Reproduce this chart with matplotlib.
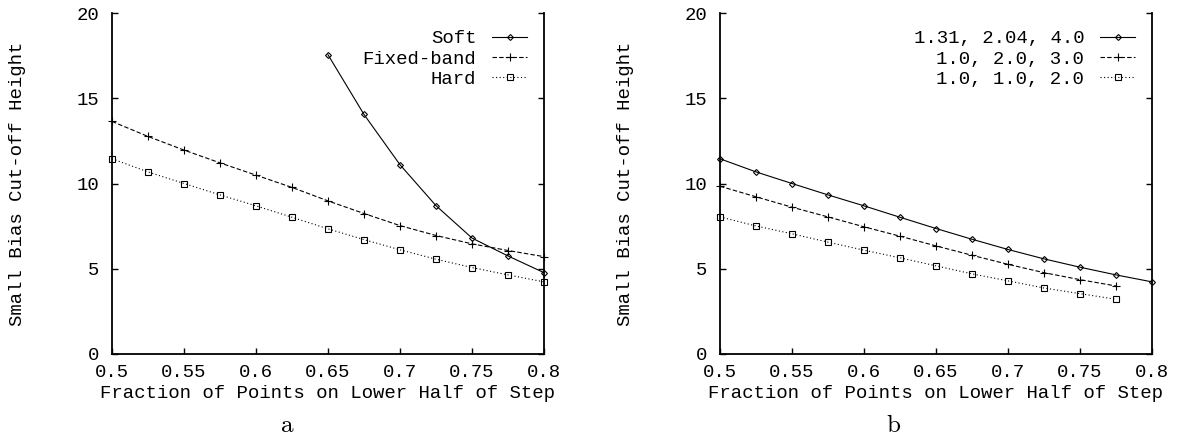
import matplotlib
matplotlib.use("Agg")
import matplotlib.pyplot as plt

# values
fraction = [0.5, 0.525, 0.55, 0.575, 0.6, 0.625, 0.65, 0.675, 0.7, 0.725, 0.75, 0.775, 0.8]

soft_x = [0.65, 0.675, 0.7, 0.725, 0.75, 0.775, 0.8]
soft = [17.55, 14.05, 11.1, 8.7, 6.8, 5.75, 4.77]
fixed_band = [13.64, 12.76, 11.96, 11.21, 10.49, 9.77, 8.98, 8.24, 7.53, 6.95, 6.46, 6.07, 5.71]
hard = [11.45, 10.68, 10.0, 9.33, 8.69, 8.02, 7.34, 6.71, 6.11, 5.56, 5.07, 4.64, 4.23]

b_labels = ["1.31, 2.04, 4.0", "1.0, 2.0, 3.0", "1.0, 1.0, 2.0"]
b_first = [11.45, 10.68, 10.0, 9.33, 8.69, 8.02, 7.36, 6.73, 6.13, 5.58, 5.09, 4.64, 4.23]
b_second = [9.84, 9.22, 8.61, 8.04, 7.46, 6.91, 6.34, 5.79, 5.26, 4.77, 4.36, 3.99]
b_third = [8.04, 7.51, 7.05, 6.56, 6.09, 5.64, 5.17, 4.70, 4.29, 3.87, 3.54, 3.21]

x_ticks = [0.5, 0.55, 0.6, 0.65, 0.7, 0.75, 0.8]
x_ticklabels = ["0.5", "0.55", "0.6", "0.65", "0.7", "0.75", "0.8"]
y_ticks = [0, 5, 10, 15, 20]

MONO = "Liberation Mono"
FS = 13.7

plt.rcParams["mathtext.fontset"] = "cm"

# gnuplot-ish line styles: solid/diamond, dashed/plus, dotted/square
STYLES = [
	dict(ls="-", marker="D", ms=3.0),
	dict(ls=(0, (4, 2)), marker="+", ms=5.5),
	dict(ls=(0, (1, 2.2)), marker="s", ms=4.2),
]


def style_axes(ax):
	ax.set_xlim(0.5, 0.8)
	ax.set_ylim(0, 20)
	ax.spines["top"].set_visible(False)
	for s in ("left", "bottom", "right"):
		ax.spines[s].set_linewidth(1.3)
	ax.set_xticks(x_ticks)
	ax.set_xticklabels(x_ticklabels)
	ax.set_yticks(y_ticks)
	ax.tick_params(axis="both", direction="in", length=4, width=1, labelsize=FS)
	ax.tick_params(axis="y", right=True, pad=9.4)
	ax.tick_params(axis="x", pad=7)
	for lab in ax.get_xticklabels() + ax.get_yticklabels():
		lab.set_family(MONO)
	ax.set_xlabel("Fraction of Points on Lower Half of Step", family=MONO, fontsize=FS)
	ax.set_ylabel("Small Bias Cut-off Height", family=MONO, fontsize=FS)
	ax.xaxis.label.set_va("center")
	ax.xaxis.set_label_coords(0.5, -40 / 341)
	ax.yaxis.label.set_va("center")
	ax.yaxis.set_label_coords(-94.5 / 432, 0.5)


def add_series(ax, x, y, label, st):
	ax.plot(x, y, color="black", lw=0.8, ls=st["ls"], marker=st["marker"],
		ms=st["ms"], mfc="none", mec="black", mew=0.8, label=label, clip_on=False)


def add_legend(ax):
	leg = ax.legend(loc="upper right", bbox_to_anchor=(0.961, 0.95), frameon=False,
		markerfirst=False, borderpad=0, borderaxespad=0, handlelength=1.83,
		handletextpad=0.84, labelspacing=0.15, prop=dict(family=MONO, size=FS))
	return leg


fig = plt.figure(figsize=(11.8, 4.43), dpi=100)

ax_a = fig.add_axes([112 / 1180, 89 / 443, 432 / 1180, 341 / 443])
style_axes(ax_a)
add_series(ax_a, soft_x, soft, "Soft", STYLES[0])
add_series(ax_a, fraction, fixed_band, "Fixed-band", STYLES[1])
add_series(ax_a, fraction, hard, "Hard", STYLES[2])
add_legend(ax_a)

ax_b = fig.add_axes([720 / 1180, 89 / 443, 432 / 1180, 341 / 443])
style_axes(ax_b)
add_series(ax_b, fraction, b_first, b_labels[0], STYLES[0])
add_series(ax_b, fraction[:len(b_second)], b_second, b_labels[1], STYLES[1])
add_series(ax_b, fraction[:len(b_third)], b_third, b_labels[2], STYLES[2])
add_legend(ax_b)

# panel captions
fig.text(0.243, 11 / 443, r"$\mathrm{a}$", ha="center", va="baseline", fontsize=18)
fig.text(0.757, 11 / 443, r"$\mathrm{b}$", ha="center", va="baseline", fontsize=18)

fig.savefig("out.png", dpi=100, facecolor="white")
